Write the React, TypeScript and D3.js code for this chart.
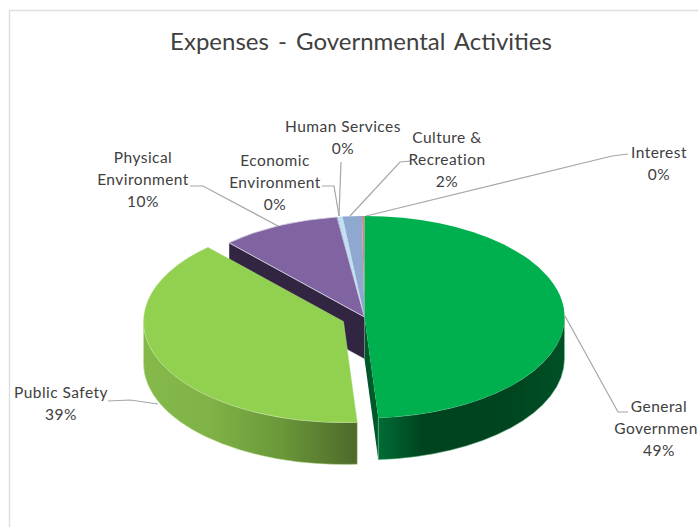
import React from "react";
import * as d3 from "d3";

const categories = ["General Government", "Public Safety", "Physical Environment", "Economic Environment", "Human Services", "Culture & Recreation", "Interest"];
const values = [48.9, 39.25, 9.65, 0.05, 0.4, 1.55, 0.2];
const topColors = ["#00b04f", "#92d050", "#8064a2", "#7f9fc9", "#c5dff2", "#8fa8d0", "#d08a84"];
const labelLines = [["General", "Government"], ["Public Safety"], ["Physical", "Environment"], ["Economic", "Environment"], ["Human Services"], ["Culture &", "Recreation"], ["Interest"]];
const labelAnchors: [number, number][] = [[659, 407], [61, 393], [143, 158], [275, 161], [343, 127], [447, 138], [659, 153]];
const leaderLines: [number, number][][] = [
  [[565, 316], [618, 412], [628, 412]],
  [[108, 401], [130, 400], [158, 404]],
  [[190, 186], [203, 186], [278, 226]],
  [[322, 186], [334, 186], [339, 216]],
  [[341, 162], [339, 216]],
  [[411, 161], [400, 162], [350, 216]],
  [[628, 154], [612, 156], [366, 216]],
];
const titleText = "Expenses - Governmental Activities";

const RX = 200;
const RY = 101;
const DEPTH = 42;
const centers: [number, number][] = [[364.5, 317], [343.5, 321.5], [364.5, 317], [364.5, 317], [364.5, 317], [364.5, 317], [364.5, 317]];
const FONT = "Lato, 'Open Sans', sans-serif";

const pt = (c: [number, number], a: number, dy = 0): [number, number] => [c[0] + RX * Math.sin(a), c[1] - RY * Math.cos(a) + dy];
const fmt = (p: [number, number]) => `${p[0].toFixed(2)} ${p[1].toFixed(2)}`;

function topPath(c: [number, number], a0: number, a1: number) {
  const large = a1 - a0 > Math.PI ? 1 : 0;
  return `M${fmt(c)}L${fmt(pt(c, a0))}A${RX} ${RY} 0 ${large} 1 ${fmt(pt(c, a1))}Z`;
}
function sidePath(c: [number, number], a0: number, a1: number) {
  const s = Math.max(a0, Math.PI / 2);
  const e = Math.min(a1, (3 * Math.PI) / 2);
  return `M${fmt(pt(c, s))}A${RX} ${RY} 0 0 1 ${fmt(pt(c, e))}L${fmt(pt(c, e, DEPTH))}A${RX} ${RY} 0 0 0 ${fmt(pt(c, s, DEPTH))}Z`;
}
function cutPath(c: [number, number], a: number) {
  return `M${fmt(c)}L${fmt(pt(c, a))}L${fmt(pt(c, a, DEPTH))}L${c[0]} ${c[1] + DEPTH}Z`;
}

export default function App() {
  const arcs = d3.pie<number>().sort(null).value((d) => d)(values);
  const green = arcs[0];
  const light = arcs[1];
  const purple = arcs[2];
  const line = d3.line();
  return (
    <svg width={698} height={527} style={{ position: "absolute", left: 0, top: 0, background: "#fff" }} fontFamily={FONT}>
      <defs>
        <linearGradient id="gSide" gradientUnits="userSpaceOnUse" x1={376} x2={565} y1={0} y2={0}>
          <stop offset="0" stopColor="#006f36" />
          <stop offset="0.25" stopColor="#00431f" />
          <stop offset="0.7" stopColor="#00451f" />
          <stop offset="1" stopColor="#005026" />
        </linearGradient>
        <linearGradient id="lSide" gradientUnits="userSpaceOnUse" x1={144} x2={355} y1={0} y2={0}>
          <stop offset="0" stopColor="#84b94a" />
          <stop offset="0.3" stopColor="#80b347" />
          <stop offset="0.65" stopColor="#6a983a" />
          <stop offset="1" stopColor="#4f6a29" />
        </linearGradient>
      </defs>
      <path d="M9.5 527V10.5H698" fill="none" stroke="#dedede" strokeWidth={1.4} />
      <text x={361} y={50} textAnchor="middle" fontSize={24} fill="#404040" style={{ wordSpacing: "3px" }}>{titleText}</text>

      <path d={cutPath(centers[2], purple.startAngle)} fill="#312541" stroke="#e8e8e8" strokeWidth={0.5} />
      {arcs.map((a, i) => (i >= 2 ? <path key={i} d={topPath(centers[i], a.startAngle, a.endAngle)} fill={topColors[i]} stroke={i === 2 ? "#d9d3e3" : "none"} strokeWidth={i === 2 ? 0.8 : 0} /> : null))}

      <path d={cutPath(centers[0], green.endAngle)} fill="#00592b" />
      <path d={sidePath(centers[0], green.startAngle, green.endAngle)} fill="url(#gSide)" stroke="#7ac79a" strokeWidth={0.5} />
      <path d={topPath(centers[0], green.startAngle, green.endAngle)} fill={topColors[0]} />

      <path d={sidePath(centers[1], light.startAngle, light.endAngle)} fill="url(#lSide)" stroke="#c4e2a4" strokeWidth={0.5} />
      <path d={topPath(centers[1], light.startAngle, light.endAngle)} fill={topColors[1]} stroke="#c4e2a4" strokeWidth={0.4} />

      {leaderLines.map((l, i) => (
        <path key={i} d={line(l) ?? ""} fill="none" stroke="#a6a6a6" strokeWidth={1.2} />
      ))}

      {categories.map((c, i) => {
        const [x, y] = labelAnchors[i];
        const lines = labelLines[i];
        return (
          <text key={c} textAnchor="middle" fontSize={15.5} letterSpacing={0.45} fill="#404040">
            {lines.map((t, j) => (
              <tspan key={j} x={x} y={y + 5 + j * 22}>{t}</tspan>
            ))}
            <tspan x={x} y={y + 5 + lines.length * 22}>{`${d3.format(".0f")(values[i])}%`}</tspan>
          </text>
        );
      })}
    </svg>
  );
}
